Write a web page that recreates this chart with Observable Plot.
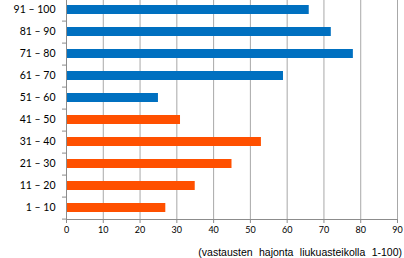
<!DOCTYPE html>
<html><head><meta charset="utf-8">
<script src="https://cdn.jsdelivr.net/npm/d3@7"></script>
<script src="https://cdn.jsdelivr.net/npm/@observablehq/plot@0.6"></script>
<style>
body{margin:0;background:#fff;}
#cap{font-family:"Liberation Sans",Arial,sans-serif;font-size:10.5px;line-height:12px;margin-top:2px;text-align:right;padding-right:2px;word-spacing:3.5px;color:#000;}
</style></head><body>
<div id="chart"></div>
<div id="cap">(vastausten hajonta liukuasteikolla 1-100)</div>
<script>
const categories = ["91 – 100","81 – 90","71 – 80","61 – 70","51 – 60","41 – 50","31 – 40","21 – 30","11 – 20","1 – 10"];
const values = [66,72,78,59,25,31,53,45,35,27];
const groups = ["high","high","high","high","high","low","low","low","low","low"];
const xTicks = [0,10,20,30,40,50,60,70,80,90];
const data = categories.map((c,i)=>({cat:c,value:values[i],group:groups[i]}));
const step = 222/(10-0.6+0.6);
const chart = Plot.plot({
  width:404, height:244,
  marginLeft:66, marginRight:7, marginTop:0, marginBottom:25,
  style:{fontFamily:"Lato, 'Open Sans', sans-serif", fontSize:"9px", color:"#000", background:"#fff"},
  x:{domain:[0,90], ticks:xTicks, label:null},
  y:{domain:categories, range:[-3,219], paddingInner:0.6, paddingOuter:0.3, label:null},
  color:{domain:["high","low"], range:["#0070C0","#FF5000"]},
  marks:[
    Plot.gridX(xTicks.slice(1), {stroke:"#a8a8a8", strokeOpacity:1}),
    Plot.barX(data, {y:"cat", x:"value", fill:"group"}),
    Plot.ruleX([0], {stroke:"#8c8c8c"}),
    Plot.frame({anchor:"bottom", stroke:"#8c8c8c"}),
    Plot.ruleY(categories, {y:d=>d, dy:step/2, x1:0, x2:0, insetLeft:-4, stroke:"#8c8c8c"}),
    Plot.axisX({ticks:xTicks, tickSize:4, tickPadding:3, stroke:"#8c8c8c", fontSize:9, label:null}),
    Plot.axisY({tickSize:0, tickPadding:11, fontSize:10.5, label:null})
  ]
});
document.getElementById("chart").appendChild(chart);
</script></body></html>
